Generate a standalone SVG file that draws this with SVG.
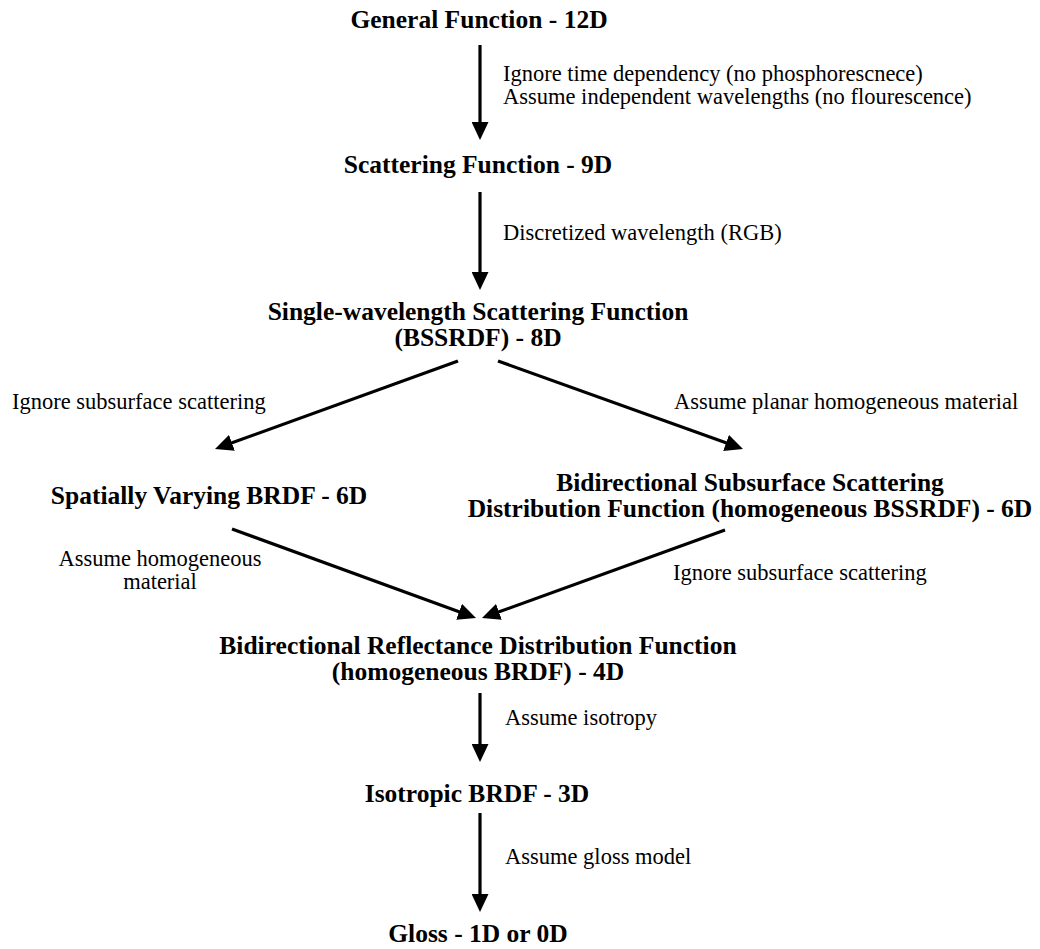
<svg xmlns="http://www.w3.org/2000/svg" width="1040" height="949" viewBox="0 0 1040 949">
<style>
text{font-family:"Liberation Serif","Times New Roman",serif;fill:#000}
.t{font-weight:bold;font-size:25.5px;text-anchor:middle}
.l{font-size:22.5px}
.c{text-anchor:middle}
.e{stroke:#000;stroke-width:3.2;fill:none;marker-end:url(#ah)}
</style>
<defs>
<marker id="ah" markerUnits="userSpaceOnUse" viewBox="0 0 18 17" markerWidth="18" markerHeight="17" refX="8" refY="8.5" orient="auto">
<path d="M0,0 L18,8.5 L0,17 z" fill="#000"/>
</marker>
</defs>
<rect width="1040" height="949" fill="#fff"/>
<g id="connectors">
<path class="e" d="M480,45 L480,130"/>
<path class="e" d="M480,192 L480,280"/>
<path class="e" d="M458,361 L224.4,445.6"/>
<path class="e" d="M498,361 L733.6,445.6"/>
<path class="e" d="M232,529 L466.6,614.6"/>
<path class="e" d="M725,530 L491.4,614.6"/>
<path class="e" d="M480,693 L480,752"/>
<path class="e" d="M480,813 L480,902"/>
</g>
<g id="edge-labels">
<text class="l" x="503" y="81">Ignore time dependency (no phosphorescnece)</text>
<text class="l" x="503" y="104">Assume independent wavelengths (no flourescence)</text>
<text class="l" x="503" y="240">Discretized wavelength (RGB)</text>
<text class="l" x="12" y="409">Ignore subsurface scattering</text>
<text class="l" x="674" y="409">Assume planar homogeneous material</text>
<text class="l c" x="160" y="566">Assume homogeneous</text>
<text class="l c" x="160" y="589">material</text>
<text class="l" x="673" y="580">Ignore subsurface scattering</text>
<text class="l" x="505" y="725">Assume isotropy</text>
<text class="l" x="505" y="864">Assume gloss model</text>
</g>
<g id="n-general"><text class="t" x="479" y="28">General Function - 12D</text></g>
<g id="n-scattering"><text class="t" x="478" y="173">Scattering Function - 9D</text></g>
<g id="n-bssrdf"><text class="t" x="478" y="320">Single-wavelength Scattering Function</text><text class="t" x="478" y="346">(BSSRDF) - 8D</text></g>
<g id="n-svbrdf"><text class="t" x="209" y="504">Spatially Varying BRDF - 6D</text></g>
<g id="n-bssdf"><text class="t" x="750" y="491">Bidirectional Subsurface Scattering</text><text class="t" x="750" y="517">Distribution Function (homogeneous BSSRDF) - 6D</text></g>
<g id="n-brdf"><text class="t" x="478" y="654">Bidirectional Reflectance Distribution Function</text><text class="t" x="478" y="680">(homogeneous BRDF) - 4D</text></g>
<g id="n-isotropic"><text class="t" x="477" y="802">Isotropic BRDF - 3D</text></g>
<g id="n-gloss"><text class="t" x="478" y="942">Gloss - 1D or 0D</text></g>
</svg>
